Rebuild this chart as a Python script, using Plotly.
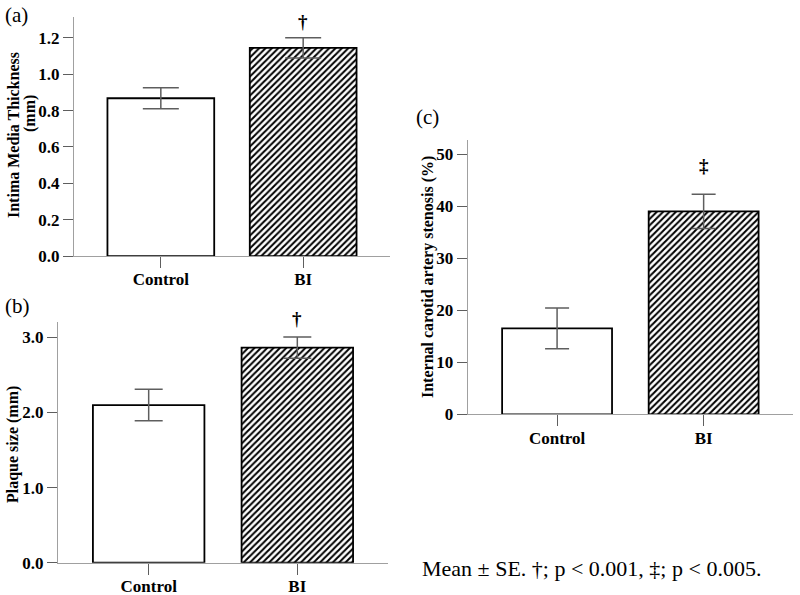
import plotly.graph_objects as go

# group labels
groups = ["Control", "BI"]

# (a) intima media thickness (mm): mean and SE
imt_mean = [0.868, 1.145]
imt_se = [0.058, 0.056]

# (b) plaque size (mm)
plaque_mean = [2.10, 2.865]
plaque_se = [0.21, 0.14]

# (c) internal carotid artery stenosis (%)
ica_mean = [16.5, 39.0]
ica_se = [3.9, 3.3]

SERIF = "Liberation Serif, Times New Roman, serif"
AXIS_GREY = "#a0a0a0"
ERR_GREY = "#5e5e5e"


def bar_trace(means, ses, xa, ya, cap):
    return go.Bar(
        x=groups,
        y=means,
        xaxis=xa,
        yaxis=ya,
        width=0.75,
        marker=dict(
            color="white",
            line=dict(color="black", width=1.8),
            pattern=dict(
                shape=["", "/"],
                fgcolor="black",
                bgcolor="white",
                size=4.5,
                solidity=0.45,
            ),
        ),
        error_y=dict(
            type="data",
            array=ses,
            symmetric=True,
            color=ERR_GREY,
            thickness=1.5,
            width=cap,
        ),
        showlegend=False,
    )


fig = go.Figure()
fig.add_trace(bar_trace(imt_mean, imt_se, "x", "y", 18))
fig.add_trace(bar_trace(plaque_mean, plaque_se, "x2", "y2", 14))
fig.add_trace(bar_trace(ica_mean, ica_se, "x3", "y3", 12))

tickfont = dict(family=SERIF, size=17, color="black", weight="bold")
xcommon = dict(
    type="category",
    range=[-0.61, 1.61],
    automargin=False,
    showline=True,
    linecolor=AXIS_GREY,
    linewidth=1,
    ticks="outside",
    ticklen=11,
    ticklabelstandoff=-3,
    tickcolor=ERR_GREY,
    tickwidth=1,
    showgrid=False,
    zeroline=False,
    tickfont=tickfont,
)
ycommon = dict(
    automargin=False,
    showline=True,
    linecolor=AXIS_GREY,
    linewidth=1,
    ticks="outside",
    ticklen=10,
    tickcolor=ERR_GREY,
    tickwidth=1,
    showgrid=False,
    zeroline=False,
    tickfont=tickfont,
)

fig.update_layout(
    width=800,
    height=595,
    margin=dict(l=0, r=0, t=0, b=0, pad=0),
    template="none",
    paper_bgcolor="white",
    plot_bgcolor="white",
    xaxis=dict(xcommon, domain=[0.0925, 0.4875], anchor="y"),
    yaxis=dict(ycommon, domain=[0.5697, 0.9714], anchor="x",
               range=[0, 1.315], tickvals=[0, 0.2, 0.4, 0.6, 0.8, 1.0, 1.2],
               tickformat=".1f"),
    xaxis2=dict(xcommon, domain=[0.0725, 0.485], anchor="y2"),
    yaxis2=dict(ycommon, domain=[0.0543, 0.4593], anchor="x2",
                range=[0, 3.21], tickvals=[0, 1, 2, 3], tickformat=".1f"),
    xaxis3=dict(xcommon, domain=[0.5846, 0.9913], anchor="y3"),
    yaxis3=dict(ycommon, domain=[0.3037, 0.7647], anchor="x3",
                range=[0, 52.7], tickvals=[0, 10, 20, 30, 40, 50]),
)

bold = dict(family=SERIF, size=16, color="black", weight="bold")
plain = dict(family=SERIF, size=21, color="black")

notes = [
    # panel letters
    dict(text="(a)", x=3, y=15, font=plain, xanchor="left"),
    dict(text="(b)", x=3, y=306, font=plain, xanchor="left"),
    dict(text="(c)", x=414, y=117, font=plain, xanchor="left"),
    # y axis titles
    dict(text="Intima Media Thickness", x=14, y=135, font=bold, textangle=-90),
    dict(text="(mm)", x=30, y=114, font=bold, textangle=-90),
    dict(text="Plaque size (mm)", x=13, y=445, font=bold, textangle=-90),
    dict(text="Internal carotid artery stenosis (%)", x=428, y=277,
         font=bold, textangle=-90),
    # footnote
    dict(text="Mean ± SE. †; p < 0.001, ‡; p < 0.005.", x=420, y=568,
         font=dict(family=SERIF, size=22, color="black"), xanchor="left"),
]
for n in notes:
    fig.add_annotation(
        text=n["text"], xref="paper", yref="paper",
        x=n["x"] / 800, y=1 - n["y"] / 595,
        xanchor=n.get("xanchor", "center"), yanchor="middle",
        textangle=n.get("textangle", 0), font=n["font"], showarrow=False,
    )

# significance marks above the BI bars
marks = [("x", "†", 22), ("x2", "†", 318), ("x3", "‡", 165)]
for xa, sym, ypix in marks:
    fig.add_annotation(
        text=sym, xref=xa, yref="paper", x="BI", y=1 - ypix / 595,
        yanchor="middle", showarrow=False,
        font=dict(family=SERIF, size=19, color="black", weight="bold"),
    )

# the page body has a default 8px margin; drop it so the figure fills the window
fig.write_html(
    "out.html",
    config={"displayModeBar": False},
    post_script="document.body.style.margin='0';",
)
